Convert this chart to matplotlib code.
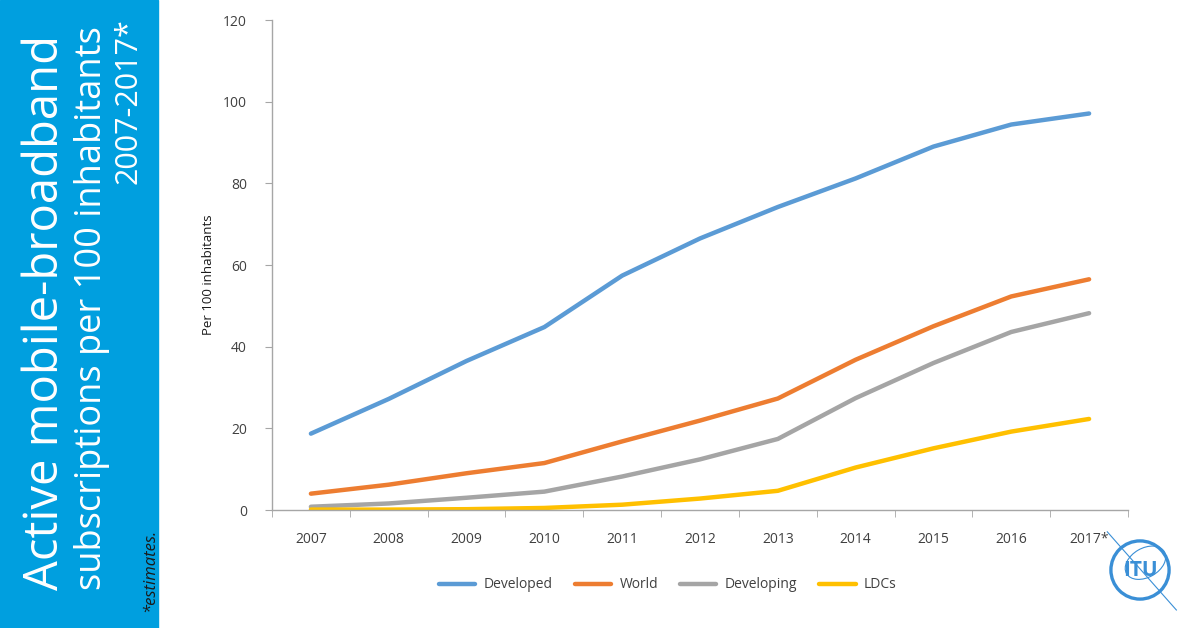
import matplotlib.pyplot as plt
import matplotlib.patches as mpatches

years = ["2007", "2008", "2009", "2010", "2011", "2012", "2013", "2014", "2015", "2016", "2017*"]
developed = [18.7, 27.2, 36.5, 44.8, 57.4, 66.5, 74.2, 81.2, 89.0, 94.4, 97.1]
world = [4.0, 6.2, 9.0, 11.5, 16.8, 21.9, 27.3, 36.8, 45.0, 52.3, 56.5]
developing = [0.8, 1.6, 3.0, 4.5, 8.2, 12.4, 17.4, 27.4, 36.0, 43.6, 48.2]
ldcs = [0.1, 0.1, 0.2, 0.5, 1.3, 2.8, 4.7, 10.4, 15.1, 19.2, 22.3]

series = [
    ("Developed", developed, "#5B9BD5"),
    ("World", world, "#ED7D31"),
    ("Developing", developing, "#A5A5A5"),
    ("LDCs", ldcs, "#FFC000"),
]

plt.rcParams["font.family"] = ["Open Sans", "DejaVu Sans"]

fig = plt.figure(figsize=(12, 6.28), dpi=100)
W, H = 1200, 628

# blue side panel
fig.patches.append(mpatches.Rectangle((0, 0), 158 / W, 1, transform=fig.transFigure,
                                      color="#009FDF", zorder=0))
fig.text(45 / W, 1 - 590 / H, "Active mobile-broadband", rotation=90, color="white",
         fontsize=34, ha="center", va="bottom")
fig.text(92 / W, 1 - 590 / H, "subscriptions per 100 inhabitants", rotation=90,
         color="white", fontsize=26, ha="center", va="bottom")
fig.text(128 / W, 1 - 18 / H, "2007-2017*", rotation=90, color="white",
         fontsize=22, ha="center", va="top")
fig.text(150 / W, 1 - 612 / H, "*estimates.", rotation=90, color="#1a1a1a",
         fontsize=12, style="italic", ha="center", va="bottom")

ax = fig.add_axes([272 / W, 1 - 510 / H, (1128 - 272) / W, 490 / H])
x = list(range(len(years)))
for name, vals, col in series:
    ax.plot(x, vals, color=col, lw=3.2, label=name, solid_capstyle="round")

ax.set_xlim(-0.5, len(years) - 0.5)
ax.set_ylim(0, 120)
ax.set_yticks(range(0, 121, 20))
ax.set_xticks(x)
ax.set_xticklabels(years)
ax.set_xticks([i - 0.5 for i in range(len(years) + 1)], minor=True)
for s in ["top", "right"]:
    ax.spines[s].set_visible(False)
for s in ["left", "bottom"]:
    ax.spines[s].set_color("#A6A6A6")
    ax.spines[s].set_linewidth(1)
ax.tick_params(axis="y", colors="#A6A6A6", labelcolor="#404040", labelsize=10,
               length=5, pad=13)
ax.tick_params(axis="x", which="major", length=0, labelcolor="#404040",
               labelsize=10, pad=16)
ax.tick_params(axis="x", which="minor", length=5, colors="#A6A6A6")
fig.text(208 / W, 1 - 275 / H, "Per 100 inhabitants", rotation=90, fontsize=9.5,
         color="#1a1a1a", ha="center", va="center")

leg = fig.legend(loc="center", bbox_to_anchor=(668 / W, 1 - 585 / H), ncol=4,
                 frameon=False, fontsize=10, handlelength=2.6, columnspacing=1.6,
                 handletextpad=0.6)
for t in leg.get_texts():
    t.set_color("#404040")

# simple ITU logo
lax = fig.add_axes([1100 / W, 1 - 612 / H, 80 / W, 84 / H])
lax.set_xlim(-1.1, 1.1)
lax.set_ylim(-1.15, 1.15)
lax.set_aspect("equal")
lax.axis("off")
lax.add_patch(mpatches.Circle((0, 0), 0.8, fill=False, ec="#3A8FD6", lw=2.4))
lax.add_patch(mpatches.Ellipse((0.15, 0.2), 1.2, 0.8, angle=30, fill=False,
                               ec="#3A8FD6", lw=0.8))
lax.plot([-0.9, 1.0], [1.05, -1.1], color="#3A8FD6", lw=0.8)
lax.text(0, -0.02, "ITU", color="#3A8FD6", fontsize=15, fontweight="bold",
         ha="center", va="center")

fig.savefig("out.png", dpi=100)
